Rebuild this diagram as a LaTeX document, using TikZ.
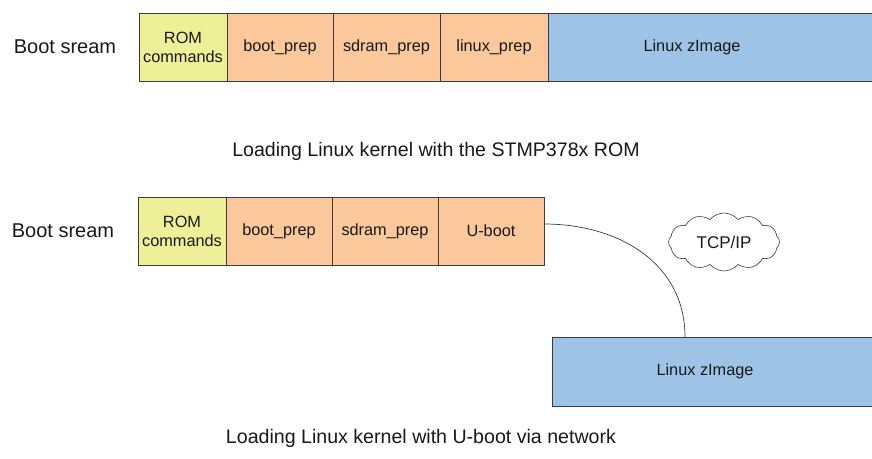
\documentclass[tikz,border=0pt]{standalone}
\usepackage{fontspec}
\setmainfont{Liberation Sans}
\usetikzlibrary{shapes.symbols}
\definecolor{romyel}{RGB}{238,240,152}
\definecolor{prepor}{RGB}{250,200,155}
\definecolor{imgblue}{RGB}{157,195,230}
\definecolor{edgegray}{RGB}{60,60,60}
\definecolor{txt}{RGB}{25,25,25}
\begin{document}
\begin{tikzpicture}[x=1pt,y=-1pt,
  seg/.style={draw=edgegray,line width=0.8pt,text=txt,inner sep=0pt,
     font=\fontsize{16.3}{19}\selectfont,align=center},
  romseg/.style={seg,fill=romyel},
  prepseg/.style={seg,fill=prepor},
  imgseg/.style={seg,fill=imgblue},
  side/.style={text=txt,font=\fontsize{20}{22}\selectfont},
  capt/.style={text=txt,font=\fontsize{19.6}{22}\selectfont},
  netcloud/.style={cloud,cloud puffs=12,cloud puff arc=100,aspect=1.8,draw=edgegray,
     line width=0.6pt,text=txt,inner sep=0pt,minimum width=111pt,minimum height=58pt,
     font=\fontsize{17}{19}\selectfont},
  link/.style={draw=edgegray,line width=0.7pt}]
\clip (0,0) rectangle (872,458);
\fill[white] (0,0) rectangle (872,458);
% top row
\node[side] (bs1) at (65,47) {Boot sream};
\path[romseg] (139,13) rectangle (227,81) node[midway] (rom1) {ROM\\commands};
\path[prepseg] (227,13) rectangle (333,81) node[midway] (bp1) {boot\_prep};
\path[prepseg] (333,13) rectangle (440,81) node[midway] (sp1) {sdram\_prep};
\path[prepseg] (440,13) rectangle (548,81) node[midway] (lp1) {linux\_prep};
\path[imgseg] (548,13) rectangle (880,81);
\node[seg,draw=none] (lz1) at (692,47) {Linux zImage};
\node[capt] (cap1) at (436,151) {Loading Linux kernel with the STMP378x ROM};
% bottom row
\node[side] (bs2) at (63,231) {Boot sream};
\path[romseg] (138,197) rectangle (226,265) node[midway] (rom2) {ROM\\commands};
\path[prepseg] (226,197) rectangle (332,265) node[midway] (bp2) {boot\_prep};
\path[prepseg] (332,197) rectangle (438,265) node[midway] (sp2) {sdram\_prep};
\path[prepseg] (438,197) rectangle (544,265) node[midway] (ub) {U-boot};
\path[imgseg] (552,337) rectangle (880,406);
\node[seg,draw=none] (lz2) at (705,371) {Linux zImage};
\coordinate (ubout) at (544,224);
\coordinate (lzin) at (685,337);
\node[netcloud] (net) at (724,242) {TCP/IP};
\draw[link] (ubout) to[out=0,in=90,looseness=1.05] (lzin);
\node[capt] (cap2) at (421,438) {Loading Linux kernel with U-boot via network};
\end{tikzpicture}
\end{document}
